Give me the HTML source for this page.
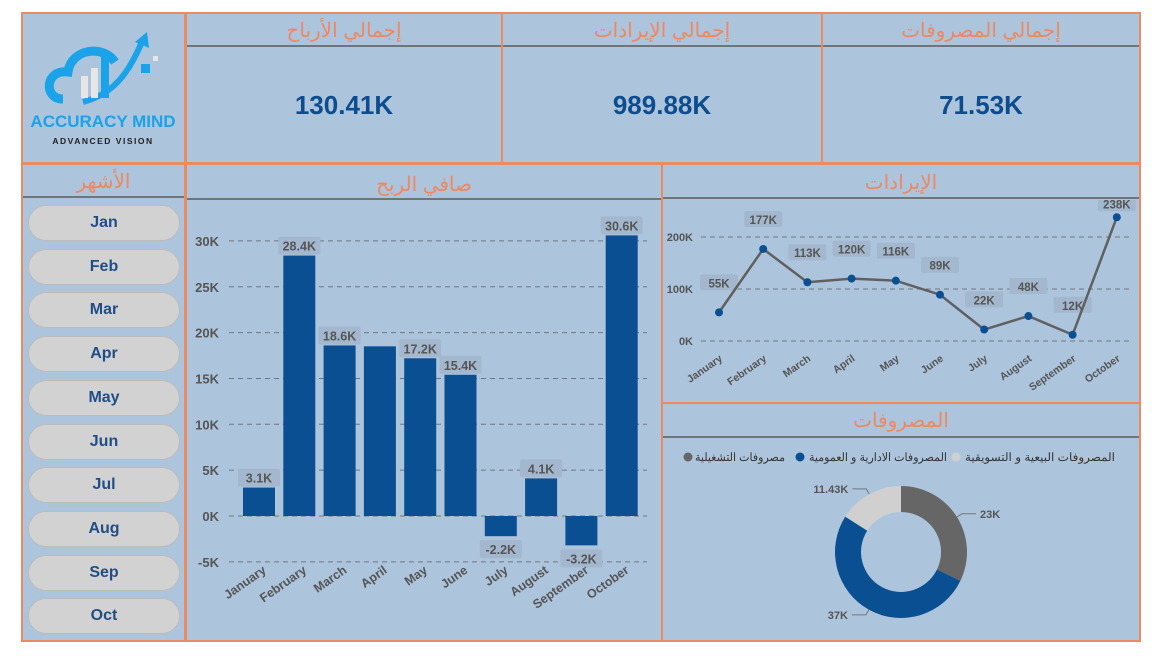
<!DOCTYPE html>
<html><head><meta charset="utf-8">
<style>
*{box-sizing:border-box;margin:0;padding:0}
body{width:1160px;height:656px;background:#fff;position:relative;overflow:hidden;font-family:"Liberation Sans","Noto Sans CJK SC",sans-serif}
.box{position:absolute;background:#adc4dd;border:2px solid #ec8a62}
.ttl{position:absolute;left:0;right:0;text-align:center;color:#ef8860;font-size:20px;font-family:"Liberation Sans","Noto Sans CJK SC",sans-serif}
.hl{position:absolute;left:0;right:0;height:2px;background:#6f757b}
.val{position:absolute;left:0;right:0;text-align:center;color:#0d4d8e;font-weight:bold;font-size:26px}
.btn{position:absolute;left:5px;width:152px;height:36px;border-radius:18px;background:#d2d2d2;border:1px solid #bcbcbc;color:#1f4e86;font-size:16px;font-weight:bold;text-align:center;line-height:34px}
svg text{font-family:"Liberation Sans","Noto Sans CJK SC",sans-serif}
</style></head><body>
<div class="box" style="left:21px;top:12px;width:165px;height:152px">
<svg width="160" height="148">
<path d="M40 85 C20 85 22 55 45 58 C48 35 80 30 92 48" fill="none" stroke="#1aa3e8" stroke-width="9"/>
<path d="M60 88 C90 80 105 60 118 30" fill="none" stroke="#1aa3e8" stroke-width="6"/>
<polygon points="112,28 124,18 126,34" fill="#1aa3e8"/>
<rect x="58" y="62" width="7" height="22" fill="#e6e6e6"/><rect x="68" y="54" width="7" height="30" fill="#e6e6e6"/><rect x="78" y="42" width="8" height="42" fill="#1aa3e8"/>
<rect x="118" y="50" width="9" height="9" fill="#1aa3e8"/><rect x="130" y="42" width="5" height="5" fill="#e6e6e6"/>
<text x="80" y="113" text-anchor="middle" font-size="17" font-weight="bold" fill="#1aa3e8">ACCURACY MIND</text>
<text x="80" y="130" text-anchor="middle" font-size="8.5" font-weight="bold" fill="#222" letter-spacing="1.5">ADVANCED VISION</text>
</svg></div>

<div class="box" style="left:185px;top:12px;width:318px;height:152px">
<div class="ttl" style="top:4px">إجمالي الأرباح</div><div class="hl" style="top:31px"></div>
<div class="val" style="top:76px">130.41K</div></div>
<div class="box" style="left:501px;top:12px;width:322px;height:152px">
<div class="ttl" style="top:4px">إجمالي الإيرادات</div><div class="hl" style="top:31px"></div>
<div class="val" style="top:76px">989.88K</div></div>
<div class="box" style="left:821px;top:12px;width:320px;height:152px">
<div class="ttl" style="top:4px">إجمالي المصروفات</div><div class="hl" style="top:31px"></div>
<div class="val" style="top:76px">71.53K</div></div>

<div class="box" id="slicer" style="left:21px;top:163px;width:165px;height:479px">
<div class="ttl" style="top:4px">الأشهر</div><div class="hl" style="top:31px"></div>
</div>

<div class="box" style="left:185px;top:163px;width:478px;height:479px">
<div class="ttl" style="top:7px">صافي الربح</div><div class="hl" style="top:33px"></div>
<svg id="bar" width="474" height="440" style="position:absolute;left:0;top:35px"></svg>
</div>

<div class="box" style="left:661px;top:163px;width:480px;height:241px">
<div class="ttl" style="top:5px">الإيرادات</div><div class="hl" style="top:32px"></div>
<svg id="line" width="476" height="200" style="position:absolute;left:0;top:35px"></svg>
</div>

<div class="box" style="left:661px;top:402px;width:480px;height:240px">
<div class="ttl" style="top:4px">المصروفات</div><div class="hl" style="top:32px"></div>
<svg id="donut" width="476" height="200" style="position:absolute;left:0;top:36px"></svg>
</div>

<script>
const months=["January","February","March","April","May","June","July","August","September","October"];
const slicerLabels=["Jan","Feb","Mar","Apr","May","Jun","Jul","Aug","Sep","Oct"];
const profit=[3.1,28.4,18.6,18.5,17.2,15.4,-2.2,4.1,-3.2,30.6];
const profitLabels=["3.1K","28.4K","18.6K","","17.2K","15.4K","-2.2K","4.1K","-3.2K","30.6K"];
const profitTicks=[-5,0,5,10,15,20,25,30];
const revenue=[55,177,113,120,116,89,22,48,12,238];
const revenueTicks=[0,100,200];
const expNames=["مصروفات التشغيلية","المصروفات الادارية و العمومية","المصروفات البيعية و التسويقية"];
const expValues=[23,37,11.43];
const expLabels=["23K","37K","11.43K"];
const NS="http://www.w3.org/2000/svg";
function mk(p,t,a,txt){const e=document.createElementNS(NS,t);for(const k in a)e.setAttribute(k,a[k]);if(txt!==undefined)e.textContent=txt;p.appendChild(e);return e;}

// slicer
const sl=document.getElementById('slicer');
slicerLabels.forEach((m,i)=>{const d=document.createElement('div');d.className='btn';d.style.top=(40+i*43.7)+'px';d.textContent=m;


sl.appendChild(d);});

// bar chart (svg origin = page 187,200)
const bs=document.getElementById('bar');
const by=v=>316-v*9.17, bx=i=>72+i*40.3;
profitTicks.forEach(t=>{const g=mk(bs,'g',{});


mk(g,'line',{x1:42,x2:460,y1:by(t),y2:by(t),stroke:'#6f7780','stroke-dasharray':'5,4','stroke-width':1});
mk(g,'text',{x:32,y:by(t)+5,'text-anchor':'end','font-size':13,'font-weight':'bold',fill:'#555'},t+'K');});
profit.forEach((v,i)=>{const y0=by(0),y1=by(v);
const r=mk(bs,'rect',{x:bx(i)-16,y:Math.min(y0,y1),width:32,height:Math.abs(y1-y0),fill:'#0a4f91'});


if(profitLabels[i]){const ly=v>=0?y1-10:y1+13;
mk(bs,'rect',{x:bx(i)-21,y:ly-9,width:42,height:18,rx:2,fill:'#a3b8cf'});
const t=mk(bs,'text',{x:bx(i),y:ly+5,'text-anchor':'middle','font-size':12.5,'font-weight':'bold',fill:'#555'},profitLabels[i]);

}
const ax=bx(i)+8, ay=372;
const xl=mk(bs,'text',{x:ax,y:ay,'text-anchor':'end','font-size':12.5,'font-weight':'bold',fill:'#555',transform:`rotate(-35 ${ax} ${ay})`},months[i]);

});

// line chart (origin page 663,200)
const ls=document.getElementById('line');
const ly=v=>141-v*0.52, lx=i=>56+i*44.2;
revenueTicks.forEach(t=>{mk(ls,'line',{x1:38,x2:470,y1:ly(t),y2:ly(t),stroke:'#6f7780','stroke-dasharray':'5,4'});
const tt=mk(ls,'text',{x:30,y:ly(t)+4,'text-anchor':'end','font-size':11,'font-weight':'bold',fill:'#555'},t+'K');

});
revenue.forEach((v,i)=>{mk(ls,'rect',{x:lx(i)-19,y:ly(v)-38+ (i==9?16:0),width:38,height:16,rx:2,fill:'#a3b8cf'});});
const pl=mk(ls,'polyline',{points:revenue.map((v,i)=>lx(i)+','+ly(v)).join(' '),fill:'none',stroke:'#606060','stroke-width':2.5});


revenue.forEach((v,i)=>{const c=mk(ls,'circle',{cx:lx(i),cy:ly(v),r:4,fill:'#0a4f91'});


mk(ls,'text',{x:lx(i),y:ly(v)-25+(i==9?16:0),'text-anchor':'middle','font-size':11.5,'font-weight':'bold',fill:'#555'},v+'K');
mk(ls,'text',{x:lx(i)+4,y:160,'text-anchor':'end','font-size':10.5,'font-weight':'bold',fill:'#555',transform:`rotate(-35 ${lx(i)+4} 160)`},months[i]);});

// donut (origin page 663,438)
const ds=document.getElementById('donut');
const legCircle=[25,137,293], legTextEnd=[122,284,452];
expNames.forEach((n,i)=>{const g=mk(ds,'g',{});


mk(g,'circle',{cx:legCircle[i],cy:17,r:4.5,fill:['#666','#0a4f91','#d0d0d0'][i]});
mk(g,'text',{x:legTextEnd[i],y:21,'text-anchor':'end','font-size':11.5,fill:'#333',textLength:[90,138,150][i],lengthAdjust:'spacingAndGlyphs'},n);});
const cx=238,cy=112,R=66,r=40,tot=expValues.reduce((a,b)=>a+b,0);
const cols=['#666666','#0a4f91','#d0d0d0'];
let a0=-Math.PI/2;
expValues.forEach((v,i)=>{const a1=a0+v/tot*2*Math.PI;const L=(a1-a0)>Math.PI?1:0;
const P=(rr,a)=>(cx+rr*Math.cos(a)).toFixed(2)+' '+(cy+rr*Math.sin(a)).toFixed(2);
const p=mk(ds,'path',{d:`M${P(R,a0)} A${R} ${R} 0 ${L} 1 ${P(R,a1)} L${P(r,a1)} A${r} ${r} 0 ${L} 0 ${P(r,a0)}Z`,fill:cols[i]});


const am=(a0+a1)/2, ex=cx+(R+6)*Math.cos(am), ey=cy+(R+6)*Math.sin(am);
const right=Math.cos(am)>0, lx2=ex+(right?14:-14);
mk(ds,'polyline',{points:`${cx+R*Math.cos(am)},${cy+R*Math.sin(am)} ${ex},${ey} ${lx2},${ey}`,fill:'none',stroke:'#777'});
mk(ds,'text',{x:lx2+(right?4:-4),y:ey+4,'text-anchor':right?'start':'end','font-size':11,'font-weight':'bold',fill:'#555'},expLabels[i]);
a0=a1;});
</script>
</body></html>
